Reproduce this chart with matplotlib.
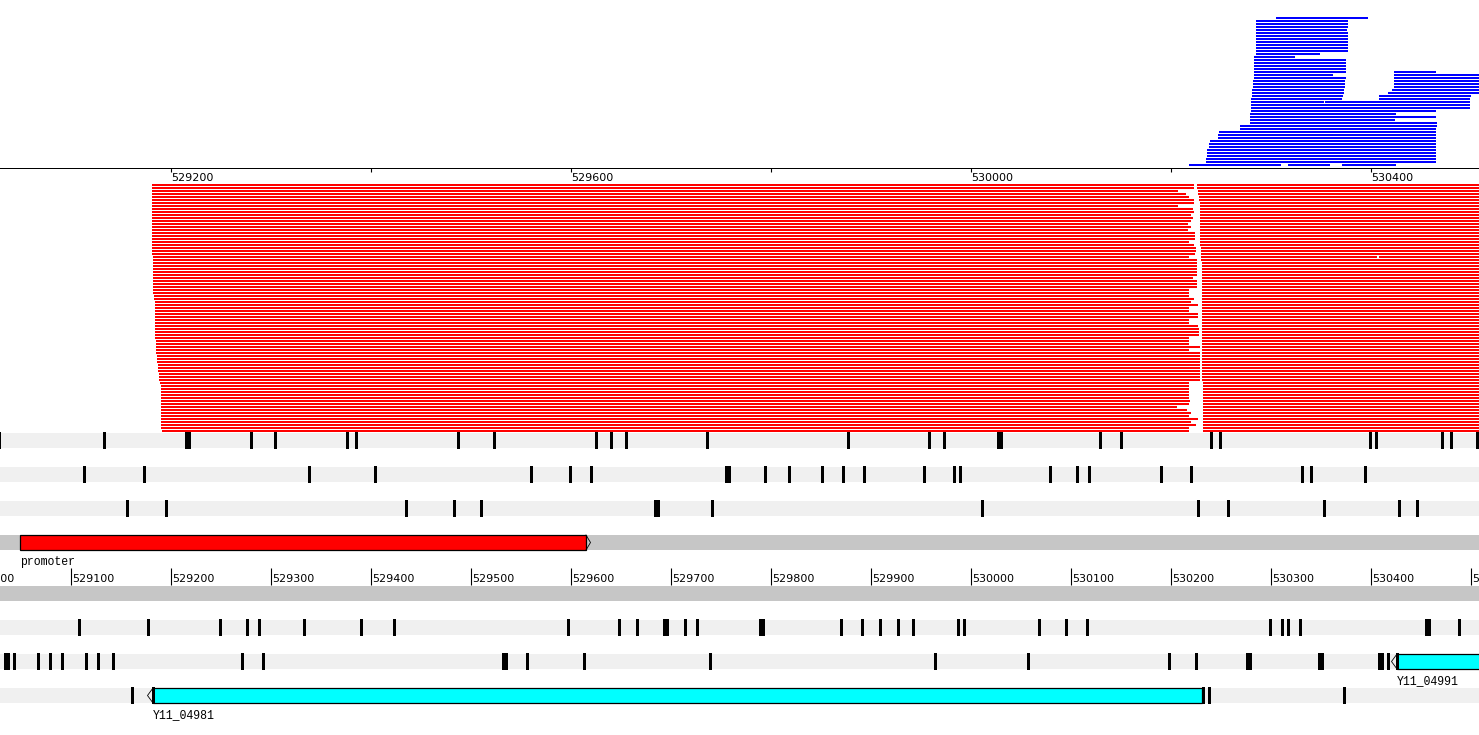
import matplotlib
matplotlib.use("Agg")
import matplotlib.pyplot as plt
import numpy as np

VIEW_START, VIEW_END = 529030, 530509

# ---------------- data ----------------
# reads drawn above the top ruler (blue), row index from the top
blue_row = [0] + list(range(1, 12)) + [12, 13, 14, 15, 16, 17,
            18, 18, 19, 19, 20, 20, 21, 21, 22, 22, 23, 23, 24, 24, 25, 25,
            26, 26, 27, 27, 28, 28, 29, 30, 31, 32, 33, 34, 35, 36, 37, 38,
            39, 40, 41, 42, 43, 44, 45, 46, 47, 48, 49, 49, 49]
blue_start = [530306] + [530286] * 11 + [530286, 530284, 530284, 530284, 530284, 530284,
              530284, 530424, 530284, 530424, 530284, 530424, 530283, 530424,
              530283, 530424, 530283, 530424, 530282, 530422, 530282, 530418,
              530282, 530409, 530281, 530409, 530281, 530355, 530281, 530281,
              530281, 530280, 530280, 530280, 530280, 530270, 530270, 530249,
              530248, 530248, 530240, 530239, 530239, 530237, 530237, 530237,
              530236, 530236, 530219, 530318, 530372]
blue_end = [530398] + [530378, 530378, 530378, 530377, 530378, 530378, 530378, 530378,
            530378, 530378, 530378] + [530350, 530325, 530376, 530376, 530376, 530376,
            530376, 530466, 530363, 530520, 530376, 530520, 530375, 530520,
            530375, 530520, 530375, 530520, 530374, 530520, 530374, 530520,
            530373, 530501, 530372, 530500, 530354, 530500, 530500, 530500,
            530466, 530426, 530466, 530425, 530467, 530467, 530466, 530466,
            530466, 530466, 530466, 530466, 530466, 530466, 530466, 530466,
            530466, 530466, 530311, 530360, 530426]

# reads below the top ruler (red), 83 rows, each split into two pieces
red_left_start = ([529182] * 24 + [529183] * 13 + [529184] * 2 + [529185] * 13 +
                  [529186] * 5 + [529187] * 3 + [529188] * 3 + [529189] * 3 +
                  [529190] + [529191] * 15 + [529192])
red_left_end = [530224, 530224, 530208, 530216, 530219, 530224, 530224, 530208,
                530223, 530224, 530221, 530223, 530221, 530218, 530221, 530218,
                530225, 530225, 530225, 530219, 530224, 530226, 530226, 530225,
                530219, 530227, 530227, 530227, 530227, 530227, 530227, 530223,
                530227, 530227, 530227, 530219, 530219, 530219, 530224, 530221,
                530228, 530219, 530219, 530228, 530228, 530219, 530219, 530228,
                530229, 530229, 530229, 530219, 530219, 530219, 530230, 530219,
                530230, 530230, 530230, 530230, 530230, 530230, 530230, 530230,
                530230, 530230, 530219, 530219, 530219, 530219, 530219, 530219,
                530220, 530219, 530207, 530217, 530221, 530219, 530228, 530221,
                530226, 530219, 530219]
red_right_start = ([530227] * 2 + [530228] * 2 + [530229] * 2 + [530230] * 15 +
                   [530231] * 5 + [530232] * 40 + [530233] * 17)
red_right_end = [530600] * 83
red_del_row = [24]
red_del_pos = [530407]

# top ruler
top_ticks = [529200, 529400, 529600, 529800, 530000, 530200, 530400]
top_labels = [529200, 529600, 530000, 530400]
# bottom ruler
bottom_ticks = list(range(529000, 530600, 100))

# stop codons per frame line (start position, 3 bp each)
stops_f1 = [529028, 529133, 529215, 529218, 529280, 529304, 529376, 529385, 529487,
            529523, 529625, 529640, 529655, 529736, 529877, 529958, 529973, 530027,
            530030, 530129, 530150, 530240, 530249, 530399, 530405, 530471, 530480,
            530506]
stops_f2 = [529113, 529173, 529338, 529404, 529560, 529599, 529620, 529755, 529758,
            529794, 529818, 529851, 529872, 529893, 529953, 529983, 529989, 530079,
            530106, 530118, 530190, 530220, 530331, 530340, 530394]
stops_f3 = [529156, 529195, 529435, 529483, 529510, 529684, 529687, 529741, 530011,
            530227, 530257, 530353, 530428, 530446]
stops_r1 = [529108, 529177, 529249, 529276, 529288, 529333, 529390, 529423, 529597,
            529648, 529666, 529693, 529696, 529714, 529726, 529789, 529792, 529870,
            529891, 529909, 529927, 529942, 529987, 529993, 530068, 530095, 530116,
            530299, 530311, 530317, 530329, 530455, 530458, 530488]
stops_r2 = [529034, 529037, 529043, 529067, 529079, 529091, 529115, 529127, 529142,
            529271, 529292, 529532, 529535, 529556, 529613, 529739, 529964, 530057,
            530198, 530225, 530276, 530279, 530348, 530351, 530408, 530411, 530417,
            530426]
stops_r3 = [529161, 529182, 530232, 530238, 530373]

# features
feat_names = ["promoter", "Y11_04981", "Y11_04991"]
feat_start = [529050, 529183, 530427]
feat_end = [529616, 530232, 530600]
feat_strand = ["+", "-", "-"]
feat_colors = ["#ff0000", "#00ffff", "#00ffff"]

# ---------------- layout (pixel rows) ----------------
BLUE_TOP, RED_TOP, PITCH, READ_H = 17, 184, 3, 2
frame_tops = {"f1": 433, "f2": 467, "f3": 501, "fwd": 535,
              "rev": 586, "r1": 620, "r2": 654, "r3": 688}
BAND_H = 15
LIGHT = "#f0f0f0"
MID = "#c6c6c6"

fig = plt.figure(figsize=(14.79, 7.35), dpi=100)
ax = fig.add_axes([0, 0, 1, 1])
ax.set_xlim(VIEW_START, VIEW_END)
ax.set_ylim(735, 0)
ax.axis("off")


def hbars(starts, ends, tops, h, **kw):
    s = np.asarray(starts, dtype=float)
    e = np.asarray(ends, dtype=float)
    ax.bar(s, height=h, width=e - s, bottom=tops, align="edge", **kw)


# blue reads
hbars(blue_start, blue_end, BLUE_TOP + PITCH * np.array(blue_row), READ_H,
      color="#0000ff", linewidth=0)
# top ruler line + ticks
hbars([VIEW_START], [VIEW_END], [168], 1, color="black", linewidth=0)
for t in top_ticks:
    ax.plot([t + 0.5, t + 0.5], [168, 172], color="black", lw=0.8, solid_capstyle="butt")
for t in top_labels:
    ax.text(t + 1.5, 181, str(t), fontsize=8, family="DejaVu Sans", va="baseline",
            ha="left", color="black")

# red reads
rows = np.arange(len(red_left_start))
hbars(red_left_start, red_left_end, RED_TOP + PITCH * rows, READ_H,
      color="#ff0000", linewidth=0)
hbars(red_right_start, red_right_end, RED_TOP + PITCH * rows, READ_H,
      color="#ff0000", linewidth=0)
hbars(red_del_pos, np.array(red_del_pos) + 2, RED_TOP + PITCH * np.array(red_del_row),
      READ_H, color="white", linewidth=0)

# frame bands
for key in ["f1", "f2", "f3", "r1", "r2", "r3"]:
    hbars([VIEW_START], [VIEW_END], [frame_tops[key]], BAND_H, color=LIGHT, linewidth=0)
for key in ["fwd", "rev"]:
    hbars([VIEW_START], [VIEW_END], [frame_tops[key]], BAND_H, color=MID, linewidth=0)

# features
feat_rows = ["fwd", "r3", "r2"]
for name, s, e, strand, col, row in zip(feat_names, feat_start, feat_end, feat_strand,
                                        feat_colors, feat_rows):
    top = frame_tops[row]
    hbars([s], [e], [top], BAND_H, color=col, edgecolor="black", linewidth=0.9)
    if strand == "+":
        ax.plot([e, e + 4.5, e], [top, top + BAND_H / 2, top + BAND_H], color="black", lw=0.6)
        ax.text(s + 0.5, top + 30, name, fontsize=8.3, family="Liberation Mono",
                va="baseline", ha="left")
    else:
        ax.plot([s, s - 5.5, s], [top, top + BAND_H / 2, top + BAND_H], color="black", lw=0.6)
        ax.text(s, top + 30, name, fontsize=8.3, family="Liberation Mono",
                va="baseline", ha="left")

# stop codons
for key, stops in [("f1", stops_f1), ("f2", stops_f2), ("f3", stops_f3),
                   ("r1", stops_r1), ("r2", stops_r2), ("r3", stops_r3)]:
    st = np.array(stops)
    hbars(st, st + 3, frame_tops[key] - 1, BAND_H + 2, color="black", linewidth=0)

# bottom ruler
for t in bottom_ticks:
    ax.plot([t + 0.5, t + 0.5], [568, 585], color="black", lw=0.8, solid_capstyle="butt")
    ax.text(t + 2.5, 582.5, str(t), fontsize=8, family="DejaVu Sans", va="baseline",
            ha="left", color="black")

fig.savefig("out.png", dpi=100)
